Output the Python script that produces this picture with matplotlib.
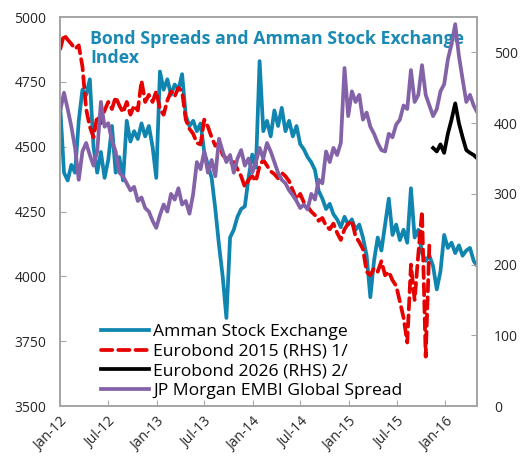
import numpy as np
import pandas as pd
import matplotlib
matplotlib.use("Agg")
import matplotlib.pyplot as plt
import matplotlib.dates as mdates

plt.rcParams['font.family'] = ['Open Sans', 'DejaVu Sans']

# biweekly sampling
dates = pd.date_range('2012-01-02', periods=114, freq='14D')

amman = [4650, 4400, 4370, 4430, 4400, 4600, 4720, 4700, 4760, 4500,
         4400, 4480, 4380, 4450, 4580, 4400, 4460, 4370, 4600, 4520,
         4560, 4530, 4590, 4540, 4580, 4500, 4380, 4790, 4720, 4760,
         4700, 4740, 4720, 4780, 4620, 4580, 4600, 4560, 4590, 4480,
         4430, 4380, 4260, 4120, 4000, 3840, 4150, 4180, 4230, 4260,
         4270, 4380, 4470, 4420, 4830, 4560, 4600, 4540, 4640, 4580,
         4650, 4560, 4600, 4540, 4580, 4510, 4490, 4460, 4440, 4410,
         4330, 4300, 4260, 4280, 4240, 4220, 4190, 4230, 4200, 4220,
         4180, 4200, 4150, 4080, 3920, 4060, 4150, 4100, 4200, 4300,
         4160, 4200, 4140, 4180, 4130, 4340, 4150, 4180, 4090, 4060,
         4080, 4040, 3950, 4020, 4160, 4110, 4130, 4090, 4120, 4080,
         4100, 4110, 4060, 4040]

euro2015 = [505, 525, 518, 512, 505, 510, 480, 420, 395, 380,
            410, 400, 418, 430, 420, 437, 425, 415, 430, 412,
            425, 418, 460, 430, 440, 430, 445, 420, 412, 432,
            445, 438, 450, 445, 405, 392, 385, 372, 370, 405,
            395, 380, 368, 372, 355, 350, 343, 345, 335, 325,
            310, 320, 325, 318, 340, 348, 340, 332, 328, 322,
            330, 325, 318, 305, 292, 300, 288, 282, 275, 270,
            262, 266, 255, 250, 258, 245, 235, 250, 258, 262,
            240, 232, 222, 190, 185, 195, 190, 205, 185, 190,
            178, 170, 148, 125, 90, 200, 150, 215, 275, 70,
            230]

euro2026 = [365, 360, 370, 358, 385, 405, 428, 400, 380, 362,
            358, 355, 350]

embi = [418, 443, 420, 395, 365, 320, 360, 372, 355, 340,
        360, 430, 395, 400, 375, 360, 330, 325, 315, 305,
        310, 290, 295, 280, 275, 262, 252, 270, 285, 275,
        300, 292, 308, 285, 290, 272, 300, 345, 335, 360,
        330, 348, 325, 378, 360, 345, 355, 330, 350, 362,
        340, 350, 330, 345, 365, 350, 372, 360, 345, 330,
        320, 315, 305, 298, 290, 280, 285, 278, 300, 292,
        320, 315, 360, 345, 365, 355, 372, 478, 410, 445,
        430, 440, 405, 415, 395, 385, 372, 362, 360, 385,
        380, 398, 405, 425, 420, 475, 430, 440, 482, 440,
        425, 410, 420, 445, 455, 490, 512, 540, 495, 462,
        430, 440, 425, 415]

n = len(dates)
red_full = np.array(euro2015 + [np.nan] * (n - len(euro2015)), dtype=float)
black_full = np.array([np.nan] * (n - len(euro2026)) + euro2026, dtype=float)

c_blue = '#0F85B0'
c_red = '#E60000'
c_black = '#000000'
c_purple = '#8462A8'
c_grey = '#A6A6A6'

fig = plt.figure(figsize=(5.22, 4.61), dpi=100)
ax = fig.add_axes([0.115, 0.119, 0.799, 0.844])
ax2 = ax.twinx()

l1, = ax.plot(dates, amman, color=c_blue, lw=2.7, label='Amman Stock Exchange')
l2, = ax2.plot(dates, red_full, color=c_red, lw=2.7, dashes=(3, 1.6),
               dash_capstyle='round', label='Eurobond 2015 (RHS) 1/')
l3, = ax2.plot(dates, black_full, color=c_black, lw=2.7, label='Eurobond 2026 (RHS) 2/')
l4, = ax2.plot(dates, embi, color=c_purple, lw=2.7, label='JP Morgan EMBI Global Spread')

ax.set_xlim(pd.Timestamp('2012-01-01'), pd.Timestamp('2016-05-01'))
ax.set_ylim(3500, 5000)
ax.set_yticks([3500, 3750, 4000, 4250, 4500, 4750, 5000])
ax2.set_ylim(0, 550)
ax2.set_yticks([0, 100, 200, 300, 400, 500])

ax.xaxis.set_major_locator(mdates.MonthLocator(bymonth=[1, 7]))
ax.xaxis.set_major_formatter(mdates.DateFormatter('%b-%y'))
for lab in ax.get_xticklabels():
    lab.set_rotation(45)
    lab.set_ha('right')
    lab.set_rotation_mode('anchor')

for a in (ax, ax2):
    for sp in a.spines.values():
        sp.set_color(c_grey)
        sp.set_linewidth(1.4)
ax.tick_params(axis='both', direction='in', length=4, color=c_grey, labelsize=10,
               labelcolor='#262626', pad=10)
ax.tick_params(axis='x', pad=6)
ax2.tick_params(axis='y', direction='in', length=4, color=c_grey, labelsize=10,
                labelcolor='#262626', pad=12)

ax.text(0.072, 0.967, 'Bond Spreads and Amman Stock Exchange\nIndex',
        transform=ax.transAxes, ha='left', va='top', fontsize=12.8,
        fontweight='bold', color='#1A8AB4', linespacing=1.05)

ax2.legend(handles=[l1, l2, l3, l4], loc='lower left', bbox_to_anchor=(0.077, -0.005),
           frameon=False, fontsize=12.6, handlelength=2.75, handletextpad=0.25,
           labelspacing=0.2, borderaxespad=0.1)

fig.savefig('out.png', dpi=100)
